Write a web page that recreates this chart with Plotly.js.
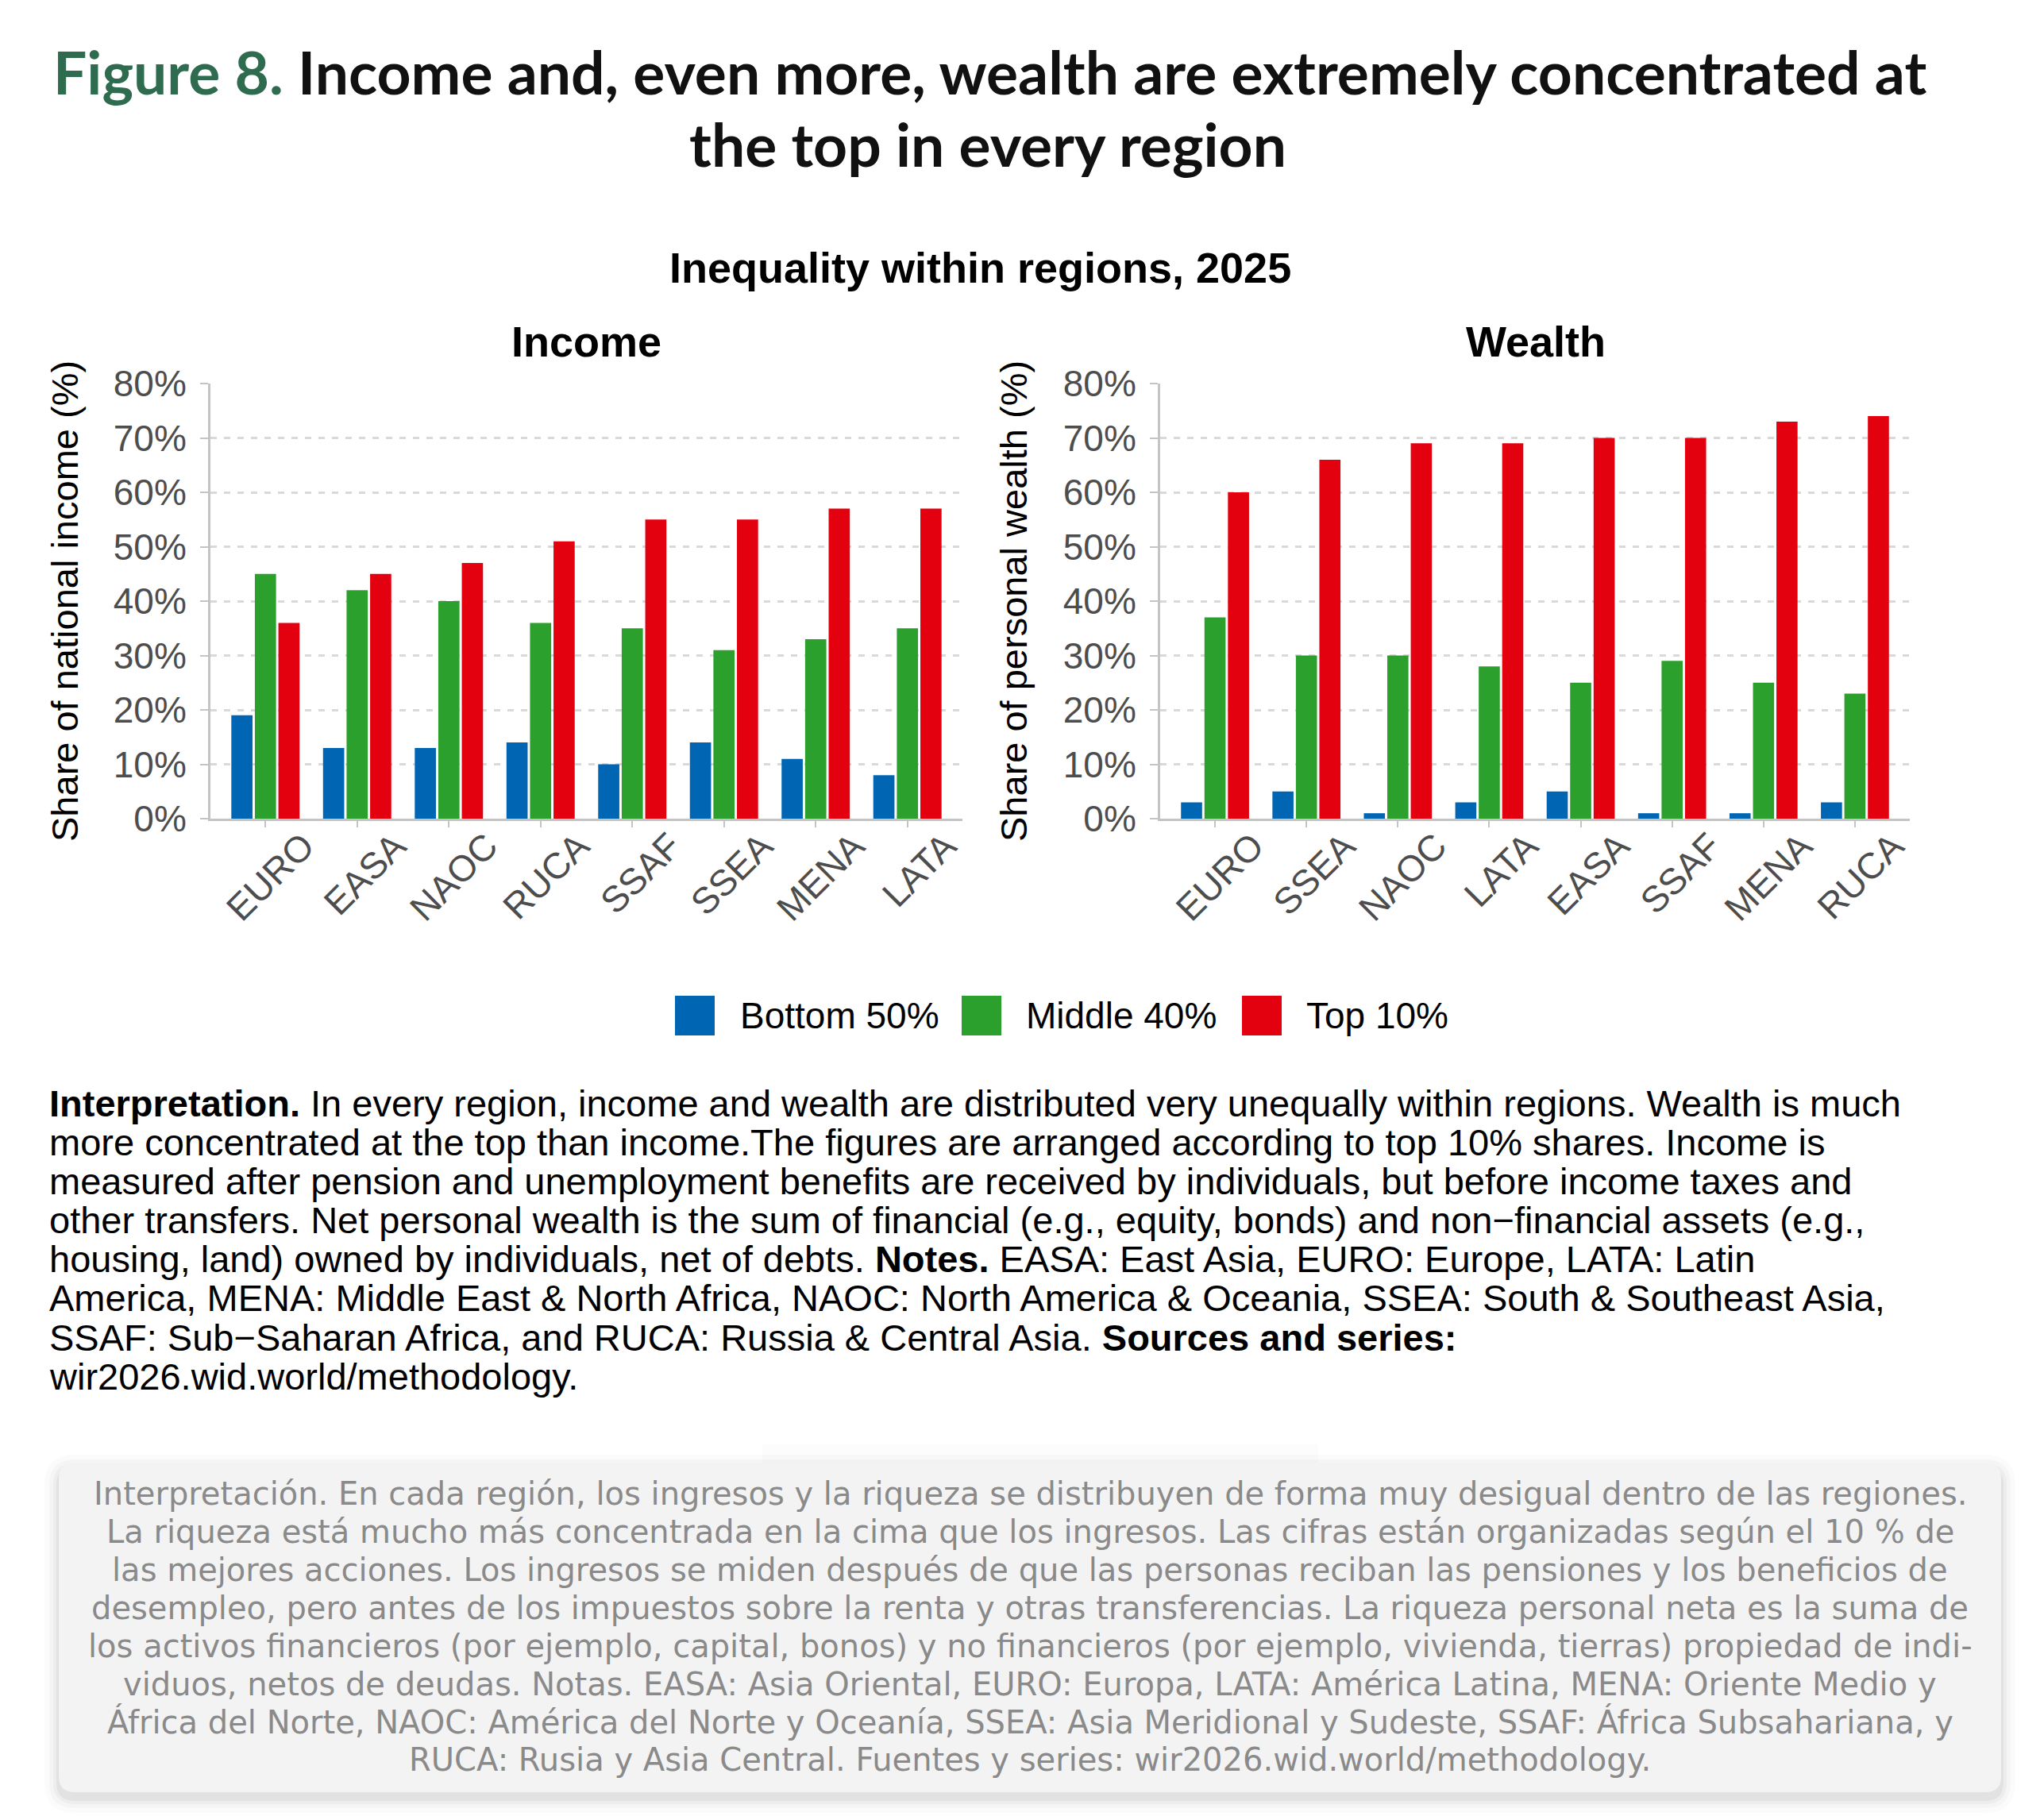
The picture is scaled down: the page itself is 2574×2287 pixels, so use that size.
<!DOCTYPE html>
<html>
<head>
<meta charset="utf-8">
<script src="https://cdn.plot.ly/plotly-3.0.1.min.js"></script>
<style>
  html, body { margin: 0; padding: 0; background: #ffffff; }
  #chart { width: 2574px; height: 2287px; }
</style>
</head>
<body>
<div id="chart"></div>
<script>
// ---------------- DATA ----------------
const incomeRegions = ["EURO", "EASA", "NAOC", "RUCA", "SSAF", "SSEA", "MENA", "LATA"];
const incomeBottom50 = [19, 13, 13, 14, 10, 14, 11, 8];
const incomeMiddle40 = [45, 42, 40, 36, 35, 31, 33, 35];
const incomeTop10    = [36, 45, 47, 51, 55, 55, 57, 57];

const wealthRegions = ["EURO", "SSEA", "NAOC", "LATA", "EASA", "SSAF", "MENA", "RUCA"];
const wealthBottom50 = [3, 5, 1, 3, 5, 1, 1, 3];
const wealthMiddle40 = [37, 30, 30, 28, 25, 29, 25, 23];
const wealthTop10    = [60, 66, 69, 69, 70, 70, 73, 74];

const seriesNames = ["Bottom 50%", "Middle 40%", "Top 10%"];
const seriesColors = ["#0066B3", "#2CA02C", "#E3000F"];
const yTickValues = [0, 10, 20, 30, 40, 50, 60, 70, 80];
const yTickLabels = ["0%", "10%", "20%", "30%", "40%", "50%", "60%", "70%", "80%"];

const titleLead = "Figure 8.";
const titleLine1 = "Income and, even more, wealth are extremely concentrated at";
const titleLine2 = "the top in every region";
const chartTitle = "Inequality within regions, 2025";
const panelTitles = ["Income", "Wealth"];
const yTitles = ["Share of national income (%)", "Share of personal wealth (%)"];

const noteLines = [
  "<b>Interpretation.</b> In every region, income and wealth are distributed very unequally within regions. Wealth is much",
  "more concentrated at the top than income.The figures are arranged according to top 10% shares. Income is",
  "measured after pension and unemployment benefits are received by individuals, but before income taxes and",
  "other transfers. Net personal wealth is the sum of financial (e.g., equity, bonds) and non\u2212financial assets (e.g.,",
  "housing, land) owned by individuals, net of debts. <b>Notes.</b> EASA: East Asia, EURO: Europe, LATA: Latin",
  "America, MENA: Middle East &amp; North Africa, NAOC: North America &amp; Oceania, SSEA: South &amp; Southeast Asia,",
  "SSAF: Sub\u2212Saharan Africa, and RUCA: Russia &amp; Central Asia. <b>Sources and series:</b>",
  "wir2026.wid.world/methodology."
];

const spanishLines = [
  "Interpretación. En cada región, los ingresos y la riqueza se distribuyen de forma muy desigual dentro de las regiones.",
  "La riqueza está mucho más concentrada en la cima que los ingresos. Las cifras están organizadas según el 10 % de",
  "las mejores acciones. Los ingresos se miden después de que las personas reciban las pensiones y los beneficios de",
  "desempleo, pero antes de los impuestos sobre la renta y otras transferencias. La riqueza personal neta es la suma de",
  "los activos financieros (por ejemplo, capital, bonos) y no financieros (por ejemplo, vivienda, tierras) propiedad de indi-",
  "viduos, netos de deudas. Notas. EASA: Asia Oriental, EURO: Europa, LATA: América Latina, MENA: Oriente Medio y",
  "África del Norte, NAOC: América del Norte y Oceanía, SSEA: Asia Meridional y Sudeste, SSAF: África Subsahariana, y",
  "RUCA: Rusia y Asia Central. Fuentes y series: wir2026.wid.world/methodology."
];

// ---------------- LAYOUT HELPERS ----------------
const W = 2574, H = 2287;
const px = x => x / W;
const py = y => 1 - y / H;
const SANS = "Liberation Sans, Arial, Helvetica, sans-serif";
const TICK_GREY = "#4d4d4d";
const AXIS_GREY = "#c4c4c4";
const GRID_GREY = "#d9d9d9";

const incomeSeries = [incomeBottom50, incomeMiddle40, incomeTop10];
const wealthSeries = [wealthBottom50, wealthMiddle40, wealthTop10];

const traces = [];
seriesNames.forEach((name, i) => {
  traces.push({
    type: "bar", name: name, x: incomeRegions, y: incomeSeries[i],
    xaxis: "x", yaxis: "y", marker: { color: seriesColors[i], line: { width: 0 } },
    showlegend: false, hoverinfo: "x+y+name"
  });
});
seriesNames.forEach((name, i) => {
  traces.push({
    type: "bar", name: name, x: wealthRegions, y: wealthSeries[i],
    xaxis: "x2", yaxis: "y2", marker: { color: seriesColors[i], line: { width: 0 } },
    showlegend: false, hoverinfo: "x+y+name"
  });
});

function xAxis(domain, anchor) {
  return {
    domain: domain, anchor: anchor, type: "category", range: [-0.6, 7.6],
    showline: true, linecolor: AXIS_GREY, linewidth: 3,
    ticks: "outside", ticklen: 8, tickwidth: 2, tickcolor: AXIS_GREY,
    tickangle: -45, tickfont: { family: SANS, size: 46, color: TICK_GREY },
    ticklabelshift: 48, ticklabelstandoff: -22,
    showgrid: false, zeroline: false, fixedrange: true
  };
}
function yAxis(domain, anchor) {
  return {
    domain: domain, anchor: anchor, range: [0, 80],
    tickmode: "array", tickvals: yTickValues, ticktext: yTickLabels,
    showline: true, linecolor: AXIS_GREY, linewidth: 3,
    ticks: "outside", ticklen: 10, tickwidth: 2, tickcolor: AXIS_GREY,
    tickfont: { family: SANS, size: 46, color: TICK_GREY },
    ticklabelstandoff: 8,
    showgrid: true, gridcolor: GRID_GREY, gridwidth: 3, griddash: "8px,9px",
    zeroline: false, fixedrange: true
  };
}

const plotTop = 483, plotBottom = 1031;
const yDom = [py(plotBottom), py(plotTop)];

const annotations = [];
// Main title (two lines)
annotations.push({
  text: "<b><span style='color:#2E6B4F'>" + titleLead + "</span> " + titleLine1 + "</b>",
  x: px(1246), y: py(90), xref: "paper", yref: "paper", xanchor: "center", yanchor: "middle",
  showarrow: false, font: { family: "Lato, sans-serif", size: 75, color: "#111111" }
});
annotations.push({
  text: "<b>" + titleLine2 + "</b>",
  x: px(1244), y: py(181), xref: "paper", yref: "paper", xanchor: "center", yanchor: "middle",
  showarrow: false, font: { family: "Lato, sans-serif", size: 75, color: "#111111" }
});
annotations.push({
  text: "<b>" + chartTitle + "</b>", x: px(1234), y: py(337), xref: "paper", yref: "paper",
  xanchor: "center", yanchor: "middle", showarrow: false,
  font: { family: SANS, size: 54, color: "#000000" }
});
[739, 1934].forEach((cx, i) => {
  annotations.push({
    text: "<b>" + panelTitles[i] + "</b>", x: px(cx), y: py(430), xref: "paper", yref: "paper",
    xanchor: "center", yanchor: "middle", showarrow: false,
    font: { family: SANS, size: 54, color: "#000000" }
  });
});
[82, 1277].forEach((cx, i) => {
  annotations.push({
    text: yTitles[i], x: px(cx), y: py(757), xref: "paper", yref: "paper",
    xanchor: "center", yanchor: "middle", textangle: -90, showarrow: false,
    font: { family: SANS, size: 47, color: "#000000" }
  });
});

// Legend (manual, large keys)
const shapes = [];
const legendKeyX = [850, 1211, 1564];
const legendTextX = [930, 1290, 1643];
const legendY = 1279;
seriesNames.forEach((name, i) => {
  shapes.push({
    type: "rect", xref: "paper", yref: "paper",
    x0: px(legendKeyX[i]), x1: px(legendKeyX[i] + 50), y0: py(legendY + 25), y1: py(legendY - 25),
    fillcolor: seriesColors[i], line: { width: 0 }
  });
  annotations.push({
    text: name, x: px(legendTextX[i]), y: py(legendY), xref: "paper", yref: "paper",
    xanchor: "left", yanchor: "middle", showarrow: false,
    font: { family: SANS, size: 46, color: "#000000" }
  });
});

// Notes text
noteLines.forEach((line, i) => {
  annotations.push({
    text: line, x: px(60), y: py(1389 + i * 49.2), xref: "paper", yref: "paper",
    xanchor: "left", yanchor: "middle", showarrow: false, align: "left",
    font: { family: SANS, size: 47, color: "#000000" }
  });
});

// Spanish translation box with soft shadow
function roundedRect(x0, y0, x1, y1, r) {
  const P = (x, y) => px(x) + "," + py(y);
  return "M" + P(x0 + r, y0) + " L" + P(x1 - r, y0) + " Q" + P(x1, y0) + " " + P(x1, y0 + r) +
         " L" + P(x1, y1 - r) + " Q" + P(x1, y1) + " " + P(x1 - r, y1) +
         " L" + P(x0 + r, y1) + " Q" + P(x0, y1) + " " + P(x0, y1 - r) +
         " L" + P(x0, y0 + r) + " Q" + P(x0, y0) + " " + P(x0 + r, y0) + " Z";
}
[[18, 0.016], [12, 0.022], [7, 0.032], [3, 0.045]].forEach(([s, a]) => {
  shapes.push({
    type: "path", xref: "paper", yref: "paper",
    path: roundedRect(74 - s, 1842 - s + 8, 2520 + s, 2257 + s + 8, 20 + s),
    fillcolor: "rgba(0,0,0," + a + ")", line: { width: 0 }
  });
});
shapes.push({
  type: "rect", xref: "paper", yref: "paper",
  x0: px(960), x1: px(1660), y0: py(1842), y1: py(1818),
  fillcolor: "rgba(0,0,0,0.012)", line: { width: 0 }
});
shapes.push({
  type: "path", xref: "paper", yref: "paper",
  path: roundedRect(74, 1842, 2520, 2257, 20),
  fillcolor: "#f3f3f3", line: { width: 0 }
});
spanishLines.forEach((line, i) => {
  annotations.push({
    text: line, x: px(1297), y: py(1881 + i * 47.9), xref: "paper", yref: "paper",
    xanchor: "center", yanchor: "middle", showarrow: false, align: "center",
    font: { family: "DejaVu Sans, sans-serif", size: 40, color: "#8a8a8a" }
  });
});

const layout = {
  width: W, height: H,
  margin: { l: 0, r: 0, t: 0, b: 0, pad: 0 },
  paper_bgcolor: "#ffffff", plot_bgcolor: "#ffffff",
  barmode: "group", bargap: 0.23, bargroupgap: 0.1,
  showlegend: false,
  xaxis: xAxis([px(265), px(1212)], "y"),
  yaxis: yAxis(yDom, "x"),
  xaxis2: xAxis([px(1461), px(2405)], "y2"),
  yaxis2: yAxis(yDom, "x2"),
  annotations: annotations,
  shapes: shapes,
  font: { family: SANS }
};

Plotly.newPlot("chart", traces, layout, { displayModeBar: false, staticPlot: true });
</script>
</body>
</html>
